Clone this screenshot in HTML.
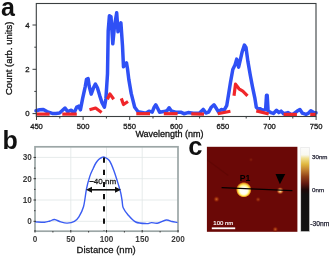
<!DOCTYPE html>
<html><head><meta charset="utf-8"><style>
html,body{margin:0;padding:0;background:#fff;}
svg{display:block;will-change:transform;}
</style></head><body>
<svg width="331" height="258" viewBox="0 0 331 258">
<polyline transform="translate(0,0.8)" points="36.0,110.0 39.6,109.0 43.3,108.6 46.9,110.8 52.3,112.6 56.0,112.6 59.6,112.3 65.0,107.2 67.7,110.8 71.3,109.4 74.0,112.3 76.8,106.3 78.6,105.4 80.4,109.0 82.6,97.9 85.3,85.5 86.5,78.5 88.1,77.8 89.2,85.5 91.2,93.3 93.5,87.0 95.4,83.2 97.4,87.0 99.7,94.8 102.0,101.8 104.4,106.4 105.9,97.9 106.7,85.5 107.5,73.0 108.2,30.0 109.4,15.0 111.0,16.0 112.8,43.0 114.5,25.0 116.7,12.0 118.0,31.0 120.9,22.0 122.5,45.0 123.5,66.0 126.5,62.0 127.5,68.0 128.8,78.6 131.2,92.6 134.7,106.5 138.1,111.0 140.6,111.4 145.9,112.5 149.0,110.4 152.2,111.4 154.3,106.1 155.8,104.0 157.5,107.2 159.6,111.4 163.8,110.8 167.0,110.0 169.1,107.0 171.2,110.0 175.5,111.4 180.7,111.4 183.9,112.9 188.1,111.8 193.4,112.5 199.5,112.2 203.2,108.6 205.9,112.2 208.6,111.3 211.3,106.4 214.0,104.0 216.4,107.7 218.6,111.3 221.3,108.6 224.0,109.5 226.7,104.9 228.5,94.0 230.5,81.5 232.8,68.7 235.1,64.0 236.7,58.3 238.6,66.4 240.5,58.3 242.1,51.3 244.4,44.3 246.0,46.6 247.9,60.6 250.2,74.0 252.5,86.0 254.8,97.0 256.3,106.4 257.9,108.0 260.2,108.0 262.5,109.5 265.6,108.7 266.5,94.5 267.2,94.5 268.1,110.3 271.0,111.8 273.4,112.6 276.5,109.5 278.8,111.8 281.1,110.3 283.6,113.0 287.9,111.8 292.1,114.2 296.9,110.5 299.9,108.7 302.4,112.4 306.0,113.6 308.4,112.4 310.8,110.0 313.8,111.8 316.0,112.0" fill="none" stroke="#2f50f5" stroke-width="3.5" stroke-linejoin="round" stroke-linecap="round"/>
<polyline transform="translate(0,0.6)" points="36.0,113.5 49.6,113.5" fill="none" stroke="#f0262a" stroke-width="3.2" stroke-linecap="butt" stroke-linejoin="round"/>
<polyline transform="translate(0,0.6)" points="62.3,113.5 76.8,113.5" fill="none" stroke="#f0262a" stroke-width="3.2" stroke-linecap="butt" stroke-linejoin="round"/>
<polyline transform="translate(0,0.6)" points="89.5,109.2 95.6,107.4 101.6,111.9" fill="none" stroke="#f0262a" stroke-width="3.2" stroke-linecap="butt" stroke-linejoin="round"/>
<polyline transform="translate(0,0.6)" points="107.4,98.6 109.9,93.3 113.7,98.6" fill="none" stroke="#f0262a" stroke-width="3.2" stroke-linecap="butt" stroke-linejoin="round"/>
<polyline transform="translate(0,0.6)" points="121.3,97.8 123.5,103.9 128.0,100.9" fill="none" stroke="#f0262a" stroke-width="3.2" stroke-linecap="butt" stroke-linejoin="round"/>
<polyline transform="translate(0,0.6)" points="136.3,113.1 150.0,113.1" fill="none" stroke="#f0262a" stroke-width="3.2" stroke-linecap="butt" stroke-linejoin="round"/>
<polyline transform="translate(0,0.6)" points="163.8,113.1 177.6,113.1" fill="none" stroke="#f0262a" stroke-width="3.2" stroke-linecap="butt" stroke-linejoin="round"/>
<polyline transform="translate(0,0.6)" points="191.3,113.3 204.0,113.6" fill="none" stroke="#f0262a" stroke-width="3.2" stroke-linecap="butt" stroke-linejoin="round"/>
<polyline transform="translate(0,0.6)" points="217.7,113.1 230.4,110.7" fill="none" stroke="#f0262a" stroke-width="3.2" stroke-linecap="butt" stroke-linejoin="round"/>
<polyline transform="translate(0,0.6)" points="234.0,95.2 235.5,83.5 239.0,88.2 242.8,90.5 247.5,95.2" fill="none" stroke="#f0262a" stroke-width="3.2" stroke-linecap="butt" stroke-linejoin="round"/>
<polyline transform="translate(0,0.6)" points="256.3,110.3 268.7,113.4" fill="none" stroke="#f0262a" stroke-width="3.2" stroke-linecap="butt" stroke-linejoin="round"/>
<polyline transform="translate(0,0.6)" points="283.6,113.8 296.9,113.8" fill="none" stroke="#f0262a" stroke-width="3.2" stroke-linecap="butt" stroke-linejoin="round"/>
<polyline transform="translate(0,0.6)" points="310.2,113.8 316.0,113.8" fill="none" stroke="#f0262a" stroke-width="3.2" stroke-linecap="butt" stroke-linejoin="round"/>
<rect x="36.3" y="3.5" width="279.7" height="113" fill="none" stroke="#3a3f40" stroke-width="1.1"/>
<line x1="32.5" y1="113.6" x2="36.3" y2="113.6" stroke="#3a3f40" stroke-width="1"/>
<text x="29.5" y="116.4" text-anchor="end" font-size="7.8" font-family="Liberation Sans, sans-serif" fill="#1a1a1a" stroke="#1a1a1a" stroke-width="0.3">0</text>
<line x1="32.5" y1="69.3" x2="36.3" y2="69.3" stroke="#3a3f40" stroke-width="1"/>
<text x="29.5" y="72.1" text-anchor="end" font-size="7.8" font-family="Liberation Sans, sans-serif" fill="#1a1a1a" stroke="#1a1a1a" stroke-width="0.3">2</text>
<line x1="32.5" y1="25.0" x2="36.3" y2="25.0" stroke="#3a3f40" stroke-width="1"/>
<text x="29.5" y="27.8" text-anchor="end" font-size="7.8" font-family="Liberation Sans, sans-serif" fill="#1a1a1a" stroke="#1a1a1a" stroke-width="0.3">4</text>
<line x1="34.3" y1="91.4" x2="36.3" y2="91.4" stroke="#3a3f40" stroke-width="1"/>
<line x1="34.3" y1="47.2" x2="36.3" y2="47.2" stroke="#3a3f40" stroke-width="1"/>
<line x1="36.5" y1="116.5" x2="36.5" y2="120" stroke="#3a3f40" stroke-width="1"/>
<text x="36.5" y="128.7" text-anchor="middle" font-size="7.6" font-family="Liberation Sans, sans-serif" fill="#1a1a1a" stroke="#1a1a1a" stroke-width="0.3">450</text>
<line x1="83.1" y1="116.5" x2="83.1" y2="120" stroke="#3a3f40" stroke-width="1"/>
<text x="83.1" y="128.7" text-anchor="middle" font-size="7.6" font-family="Liberation Sans, sans-serif" fill="#1a1a1a" stroke="#1a1a1a" stroke-width="0.3">500</text>
<line x1="129.7" y1="116.5" x2="129.7" y2="120" stroke="#3a3f40" stroke-width="1"/>
<text x="129.7" y="128.7" text-anchor="middle" font-size="7.6" font-family="Liberation Sans, sans-serif" fill="#1a1a1a" stroke="#1a1a1a" stroke-width="0.3">550</text>
<line x1="176.3" y1="116.5" x2="176.3" y2="120" stroke="#3a3f40" stroke-width="1"/>
<text x="176.3" y="128.7" text-anchor="middle" font-size="7.6" font-family="Liberation Sans, sans-serif" fill="#1a1a1a" stroke="#1a1a1a" stroke-width="0.3">600</text>
<line x1="222.9" y1="116.5" x2="222.9" y2="120" stroke="#3a3f40" stroke-width="1"/>
<text x="222.9" y="128.7" text-anchor="middle" font-size="7.6" font-family="Liberation Sans, sans-serif" fill="#1a1a1a" stroke="#1a1a1a" stroke-width="0.3">650</text>
<line x1="269.5" y1="116.5" x2="269.5" y2="120" stroke="#3a3f40" stroke-width="1"/>
<text x="269.5" y="128.7" text-anchor="middle" font-size="7.6" font-family="Liberation Sans, sans-serif" fill="#1a1a1a" stroke="#1a1a1a" stroke-width="0.3">700</text>
<line x1="316.1" y1="116.5" x2="316.1" y2="120" stroke="#3a3f40" stroke-width="1"/>
<text x="316.1" y="128.7" text-anchor="middle" font-size="7.6" font-family="Liberation Sans, sans-serif" fill="#1a1a1a" stroke="#1a1a1a" stroke-width="0.3">750</text>
<line x1="59.8" y1="116.5" x2="59.8" y2="118.5" stroke="#3a3f40" stroke-width="1"/>
<line x1="106.4" y1="116.5" x2="106.4" y2="118.5" stroke="#3a3f40" stroke-width="1"/>
<line x1="153.0" y1="116.5" x2="153.0" y2="118.5" stroke="#3a3f40" stroke-width="1"/>
<line x1="199.6" y1="116.5" x2="199.6" y2="118.5" stroke="#3a3f40" stroke-width="1"/>
<line x1="246.2" y1="116.5" x2="246.2" y2="118.5" stroke="#3a3f40" stroke-width="1"/>
<line x1="292.8" y1="116.5" x2="292.8" y2="118.5" stroke="#3a3f40" stroke-width="1"/>
<text x="135.4" y="136.7" font-size="9" font-family="Liberation Sans, sans-serif" fill="#111" stroke="#111" stroke-width="0.3">Wavelength (nm)</text>
<text transform="translate(11.6,95) rotate(-90)" font-size="9.5" font-family="Liberation Sans, sans-serif" fill="#111" stroke="#111" stroke-width="0.3">Count (arb. units)</text>
<text x="1" y="15.7" font-size="25" font-weight="bold" font-family="Liberation Sans, sans-serif" fill="#111">a</text>
<line x1="35" y1="221.3" x2="178" y2="221.3" stroke="#dfe6e6" stroke-width="0.8"/>
<line x1="35" y1="200.0" x2="178" y2="200.0" stroke="#dfe6e6" stroke-width="0.8"/>
<line x1="35" y1="178.7" x2="178" y2="178.7" stroke="#dfe6e6" stroke-width="0.8"/>
<line x1="35" y1="157.4" x2="178" y2="157.4" stroke="#dfe6e6" stroke-width="0.8"/>
<line x1="70.8" y1="147" x2="70.8" y2="231" stroke="#dfe6e6" stroke-width="0.8"/>
<line x1="106.5" y1="147" x2="106.5" y2="231" stroke="#dfe6e6" stroke-width="0.8"/>
<line x1="142.2" y1="147" x2="142.2" y2="231" stroke="#dfe6e6" stroke-width="0.8"/>
<rect x="35" y="146.8" width="143" height="84.4" fill="none" stroke="#9ca6a6" stroke-width="1.7"/>
<path d="M35.0,221.9 C36.6,221.9 42.0,222.3 44.5,222.2 C47.0,222.0 48.3,221.4 50.0,221.0 C51.7,220.6 52.7,219.3 54.5,219.5 C56.3,219.7 58.7,221.3 60.8,221.9 C62.9,222.5 64.9,223.2 67.2,223.1 C69.5,223.0 72.5,222.4 74.4,221.3 C76.4,220.2 77.4,219.2 78.9,216.8 C80.4,214.4 82.2,211.5 83.5,206.8 C84.8,202.1 85.5,193.9 86.5,188.8 C87.5,183.7 88.7,179.8 89.8,176.4 C90.9,173.0 92.3,170.4 93.3,168.2 C94.3,166.0 95.0,164.4 95.9,163.0 C96.8,161.6 97.7,160.4 98.7,159.5 C99.7,158.6 100.9,157.9 101.8,157.5 C102.7,157.1 102.8,156.7 104.1,157.2 C105.3,157.7 107.6,158.2 109.3,160.5 C111.0,162.8 112.7,167.5 114.0,171.0 C115.3,174.5 116.3,177.9 117.4,181.4 C118.5,184.9 119.7,188.8 120.5,191.9 C121.3,195.0 121.5,197.3 122.0,200.0 C122.5,202.7 122.2,205.4 123.2,207.8 C124.2,210.2 125.8,212.3 127.9,214.7 C130.0,217.1 132.6,220.5 135.7,222.0 C138.8,223.5 143.9,223.5 146.5,223.6 C149.1,223.7 149.6,222.7 151.4,222.6 C153.2,222.5 154.8,223.6 157.3,223.2 C159.8,222.8 163.8,220.3 166.2,220.0 C168.6,219.7 170.1,221.1 172.0,221.5 C173.9,221.9 176.6,222.4 177.5,222.6" fill="none" stroke="#3a5cf2" stroke-width="1.4"/>
<line x1="104" y1="157.5" x2="104" y2="231" stroke="#111" stroke-width="2" stroke-dasharray="5.2 7"/>
<line x1="90" y1="189.8" x2="117" y2="189.8" stroke="#111" stroke-width="1.6"/>
<polygon points="86,189.8 92,186.8 92,192.8" fill="#111"/>
<polygon points="121,189.8 115,186.8 115,192.8" fill="#111"/>
<text x="89.2" y="184.4" font-size="8" font-family="Liberation Sans, sans-serif" fill="#1a1a1a" stroke="#1a1a1a" stroke-width="0.3">~40 nm</text>
<line x1="33.5" y1="221.3" x2="36" y2="221.3" stroke="#333" stroke-width="1"/>
<text x="31.9" y="224.1" text-anchor="end" font-size="8.2" font-weight="bold" font-family="Liberation Sans, sans-serif" fill="#3a3a3a">0</text>
<line x1="33.5" y1="200.0" x2="36" y2="200.0" stroke="#333" stroke-width="1"/>
<text x="31.9" y="202.8" text-anchor="end" font-size="8.2" font-weight="bold" font-family="Liberation Sans, sans-serif" fill="#3a3a3a">10</text>
<line x1="33.5" y1="178.7" x2="36" y2="178.7" stroke="#333" stroke-width="1"/>
<text x="31.9" y="181.5" text-anchor="end" font-size="8.2" font-weight="bold" font-family="Liberation Sans, sans-serif" fill="#3a3a3a">20</text>
<line x1="33.5" y1="157.4" x2="36" y2="157.4" stroke="#333" stroke-width="1"/>
<text x="31.9" y="160.2" text-anchor="end" font-size="8.2" font-weight="bold" font-family="Liberation Sans, sans-serif" fill="#3a3a3a">30</text>
<line x1="35.0" y1="230" x2="35.0" y2="232.5" stroke="#333" stroke-width="1"/>
<text x="35.0" y="241.8" text-anchor="middle" font-size="8.2" font-weight="bold" font-family="Liberation Sans, sans-serif" fill="#3a3a3a">0</text>
<line x1="70.8" y1="230" x2="70.8" y2="232.5" stroke="#333" stroke-width="1"/>
<text x="70.8" y="241.8" text-anchor="middle" font-size="8.2" font-weight="bold" font-family="Liberation Sans, sans-serif" fill="#3a3a3a">50</text>
<line x1="106.5" y1="230" x2="106.5" y2="232.5" stroke="#333" stroke-width="1"/>
<text x="106.5" y="241.8" text-anchor="middle" font-size="8.2" font-weight="bold" font-family="Liberation Sans, sans-serif" fill="#3a3a3a">100</text>
<line x1="142.2" y1="230" x2="142.2" y2="232.5" stroke="#333" stroke-width="1"/>
<text x="142.2" y="241.8" text-anchor="middle" font-size="8.2" font-weight="bold" font-family="Liberation Sans, sans-serif" fill="#3a3a3a">150</text>
<line x1="178.0" y1="230" x2="178.0" y2="232.5" stroke="#333" stroke-width="1"/>
<text x="178.0" y="241.8" text-anchor="middle" font-size="8.2" font-weight="bold" font-family="Liberation Sans, sans-serif" fill="#3a3a3a">200</text>
<line x1="52.9" y1="231" x2="52.9" y2="232.5" stroke="#333" stroke-width="0.9"/>
<line x1="88.6" y1="231" x2="88.6" y2="232.5" stroke="#333" stroke-width="0.9"/>
<line x1="124.4" y1="231" x2="124.4" y2="232.5" stroke="#333" stroke-width="0.9"/>
<line x1="160.1" y1="231" x2="160.1" y2="232.5" stroke="#333" stroke-width="0.9"/>
<line x1="34" y1="210.7" x2="35.5" y2="210.7" stroke="#333" stroke-width="0.9"/>
<line x1="34" y1="189.4" x2="35.5" y2="189.4" stroke="#333" stroke-width="0.9"/>
<line x1="34" y1="168.1" x2="35.5" y2="168.1" stroke="#333" stroke-width="0.9"/>
<text x="76.6" y="253" font-size="9.5" font-family="Liberation Sans, sans-serif" fill="#1a1a1a" stroke="#1a1a1a" stroke-width="0.3">Distance (nm)</text>
<text x="2.4" y="148.7" font-size="25" font-weight="bold" font-family="Liberation Sans, sans-serif" fill="#111">b</text>
<text x="188.3" y="154.9" font-size="25.5" font-weight="bold" font-family="Liberation Sans, sans-serif" fill="#111">c</text>
<defs><radialGradient id="g1" cx="0.5" cy="0.5" fx="0.5" fy="0.62" r="0.5"><stop offset="0" stop-color="#fff"/><stop offset="0.45" stop-color="#fffef0"/><stop offset="0.68" stop-color="#fff070"/><stop offset="0.84" stop-color="#e8a020"/><stop offset="0.94" stop-color="#a03010"/><stop offset="1" stop-color="#6a0806" stop-opacity="0"/></radialGradient><radialGradient id="g2"><stop offset="0" stop-color="#e08030"/><stop offset="0.5" stop-color="#a02a08"/><stop offset="1" stop-color="#6a0a02" stop-opacity="0"/></radialGradient><radialGradient id="g3"><stop offset="0" stop-color="#fff0e0"/><stop offset="0.3" stop-color="#f0b060"/><stop offset="0.6" stop-color="#c05020"/><stop offset="1" stop-color="#6a0806" stop-opacity="0"/></radialGradient><linearGradient id="cb" x1="0" y1="0" x2="0" y2="1"><stop offset="0" stop-color="#fcfcfc"/><stop offset="0.09" stop-color="#f8f8f0"/><stop offset="0.13" stop-color="#f0e090"/><stop offset="0.2" stop-color="#e0b840"/><stop offset="0.27" stop-color="#c08030"/><stop offset="0.35" stop-color="#904018"/><stop offset="0.43" stop-color="#601810"/><stop offset="0.5" stop-color="#200808"/><stop offset="0.56" stop-color="#121010"/><stop offset="1" stop-color="#121212"/></linearGradient></defs>
<rect x="206.9" y="146.8" width="90.5" height="85" fill="#6a0806"/>
<line x1="207.3" y1="160" x2="228.3" y2="175.6" stroke="#500400" stroke-width="1.2" opacity="0.35"/>
<circle cx="216.5" cy="199.2" r="3.5" fill="url(#g2)" opacity="0.75"/>
<circle cx="258.1" cy="199.5" r="3" fill="url(#g2)" opacity="0.5"/>
<circle cx="275.3" cy="229.3" r="3.2" fill="url(#g2)" opacity="0.7"/>
<circle cx="251" cy="159.7" r="2.5" fill="url(#g2)" opacity="0.2"/>
<circle cx="243.8" cy="189.7" r="7.9" fill="url(#g1)"/>
<circle cx="280.2" cy="190.8" r="4" fill="url(#g3)"/>
<line x1="221.6" y1="187.6" x2="292.4" y2="190.6" stroke="#050000" stroke-width="1.35"/>
<polygon points="275.5,174 285.3,174 279.9,184.2" fill="#000"/>
<text x="239.8" y="180.7" font-size="8.6" font-weight="bold" font-family="Liberation Sans, sans-serif" fill="#000">P1</text>
<text x="213.3" y="225.1" font-size="6" font-family="Liberation Sans, sans-serif" fill="#fff" stroke="#fff" stroke-width="0.15">100 nm</text>
<rect x="211.8" y="227.4" width="23.4" height="1.8" fill="#fff"/>
<rect x="300.8" y="147.3" width="8.7" height="84.2" fill="url(#cb)" stroke="#ddd" stroke-width="0.5"/>
<text x="312" y="159.4" font-size="6.2" font-family="Liberation Sans, sans-serif" fill="#223" stroke="#223" stroke-width="0.25">30nm</text>
<text x="312" y="192.3" font-size="6.2" font-family="Liberation Sans, sans-serif" fill="#223" stroke="#223" stroke-width="0.25">0nm</text>
<text x="310.3" y="225.8" font-size="6.7" font-family="Liberation Sans, sans-serif" fill="#223" stroke="#223" stroke-width="0.25">-30nm</text>
</svg></body></html>
